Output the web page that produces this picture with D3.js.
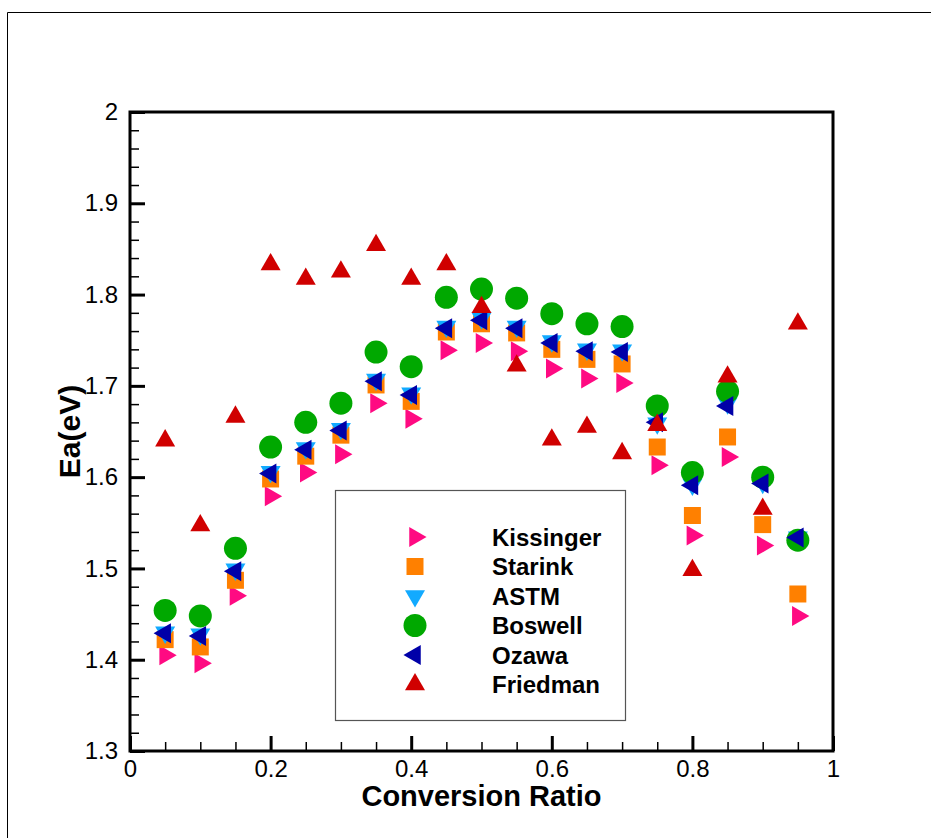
<!DOCTYPE html>
<html>
<head>
<meta charset="utf-8">
<script src="https://cdn.jsdelivr.net/npm/d3@7"></script>
<style>
  html, body { margin: 0; padding: 0; background: #fff; }
  svg { display: block; font-family: "Liberation Sans", Arial, Helvetica, sans-serif; }
</style>
</head>
<body>
<svg id="chart" width="931" height="838"></svg>
<script>
// ---- data ----
const conversion = [0.05,0.1,0.15,0.2,0.25,0.3,0.35,0.4,0.45,0.5,0.55,0.6,0.65,0.7,0.75,0.8,0.85,0.9,0.95];
const kissinger = [1.405,1.396,1.470,1.579,1.605,1.625,1.681,1.664,1.739,1.747,1.738,1.719,1.708,1.703,1.613,1.536,1.622,1.525,1.448];
const starink   = [1.422,1.414,1.487,1.598,1.623,1.646,1.701,1.683,1.759,1.768,1.758,1.740,1.729,1.724,1.633,1.558,1.644,1.548,1.472];
const astm      = [1.430,1.428,1.499,1.606,1.632,1.653,1.707,1.692,1.765,1.774,1.765,1.749,1.740,1.739,1.659,1.592,1.681,1.594,1.534];
const boswell   = [1.454,1.448,1.522,1.633,1.660,1.681,1.737,1.721,1.797,1.806,1.796,1.779,1.768,1.765,1.678,1.605,1.694,1.600,1.531];
const ozawa     = [1.429,1.426,1.497,1.604,1.630,1.651,1.705,1.690,1.763,1.772,1.763,1.747,1.738,1.737,1.660,1.591,1.678,1.593,1.534];
const friedman  = [1.640,1.547,1.666,1.833,1.817,1.825,1.854,1.817,1.833,1.786,1.722,1.641,1.655,1.626,1.657,1.498,1.710,1.565,1.768];

const seriesNames = ["Kissinger","Starink","ASTM","Boswell","Ozawa","Friedman"];
const seriesValues = [kissinger, starink, astm, boswell, ozawa, friedman];
const seriesColors = ["#FF0A82","#FF8000","#12AAFF","#00A800","#0000A8","#D00000"];
const seriesShapes = ["right","square","down","circle","left","up"];

const xTicks = [0,0.2,0.4,0.6,0.8,1];
const xMinor = [0.05,0.1,0.15,0.25,0.3,0.35,0.45,0.5,0.55,0.65,0.7,0.75,0.85,0.9,0.95];
const yTicks = [1.3,1.4,1.5,1.6,1.7,1.8,1.9,2];
const yMinor = d3.range(1.3, 2.0001, 0.02).filter(v => Math.abs(Math.round(v*10) - v*10) > 1e-6);
const xTitle = "Conversion Ratio";
const yTitle = "Ea(eV)";

// ---- layout ----
const svg = d3.select("#chart");
const L = 130, R = 833, T = 112, B = 751;
const x = d3.scaleLinear().domain([0,1]).range([L,R]);
const y = d3.scaleLinear().domain([1.3,2]).range([B,T]);

// outer frame (left & top edges visible)
svg.append("path").attr("d","M7.5,838 L7.5,12.5 L931,12.5")
  .attr("fill","none").attr("stroke","#000").attr("stroke-width",1);

// marker shapes (triangles centred on their centroid)
function shapePath(shape){
  const s = 20, h = s*Math.sqrt(3)/2, a = 2*h/3, b = h/3, q = 8.5;
  switch(shape){
    case "up":    return `M0,${-a}L${s/2},${b}L${-s/2},${b}Z`;
    case "down":  return `M0,${a}L${s/2},${-b}L${-s/2},${-b}Z`;
    case "right": return `M${a},0L${-b},${-s/2}L${-b},${s/2}Z`;
    case "left":  return `M${-a},0L${b},${-s/2}L${b},${s/2}Z`;
    case "square":return `M${-q},${-q}H${q}V${q}H${-q}Z`;
    case "circle":return d3.symbol(d3.symbolCircle, Math.PI*11.5*11.5)();
  }
}

// axes
const fmt = d3.format("~g");
const gx = svg.append("g").attr("transform",`translate(0,${B})`)
  .call(d3.axisBottom(x).tickValues(xTicks).tickSize(-15).tickPadding(9).tickFormat(fmt));
const gxm = svg.append("g").attr("transform",`translate(0,${B})`)
  .call(d3.axisBottom(x).tickValues(xMinor).tickSize(-9).tickFormat(""));
const gy = svg.append("g").attr("transform",`translate(${L},0)`)
  .call(d3.axisLeft(y).tickValues(yTicks).tickSize(-15).tickPadding(12).tickFormat(fmt));
const gym = svg.append("g").attr("transform",`translate(${L},0)`)
  .call(d3.axisLeft(y).tickValues(yMinor).tickSize(-9).tickFormat(""));

[gx,gxm,gy,gym].forEach(g => g.select(".domain").remove());
[gx,gy].forEach(g => {
  g.selectAll(".tick line").attr("stroke","#000").attr("stroke-width",3);
  g.selectAll(".tick text").attr("fill","#000").style("font-size","24px")
   .style("font-family",'"Liberation Sans", Arial, sans-serif');
});
[gxm,gym].forEach(g => g.selectAll(".tick line").attr("stroke","#000").attr("stroke-width",1.5));

// plot frame
svg.append("rect").attr("x",L).attr("y",T).attr("width",R-L).attr("height",B-T)
  .attr("fill","none").attr("stroke","#000").attr("stroke-width",3);

// axis titles
svg.append("text").attr("x",(L+R)/2).attr("y",806).attr("text-anchor","middle")
  .style("font-size","29px").style("font-weight","bold").text(xTitle);
svg.append("text").attr("transform",`translate(80,${(T+B)/2}) rotate(-90)`)
  .attr("text-anchor","middle")
  .style("font-size","30px").style("font-weight","bold").text(yTitle);

// data markers
const marks = svg.append("g");
seriesValues.forEach((vals, i) => {
  marks.append("g").selectAll("path").data(vals).join("path")
    .attr("d", shapePath(seriesShapes[i]))
    .attr("transform", (v, j) => `translate(${x(conversion[j])},${y(v)})`)
    .attr("fill", seriesColors[i]);
});

// legend
const lg = svg.append("g");
lg.append("rect").attr("x",335.5).attr("y",490.5).attr("width",290).attr("height",230)
  .attr("fill","#fff").attr("stroke","#555").attr("stroke-width",1.2);
seriesNames.forEach((name, i) => {
  const cy = 537 + i*29.5;
  lg.append("path").attr("d", shapePath(seriesShapes[i]))
    .attr("transform",`translate(415,${cy})`).attr("fill", seriesColors[i]);
  lg.append("text").attr("x",492).attr("y",cy).attr("dy","0.36em")
    .style("font-size","24px").style("font-weight","bold").text(name);
});
</script>
</body>
</html>
